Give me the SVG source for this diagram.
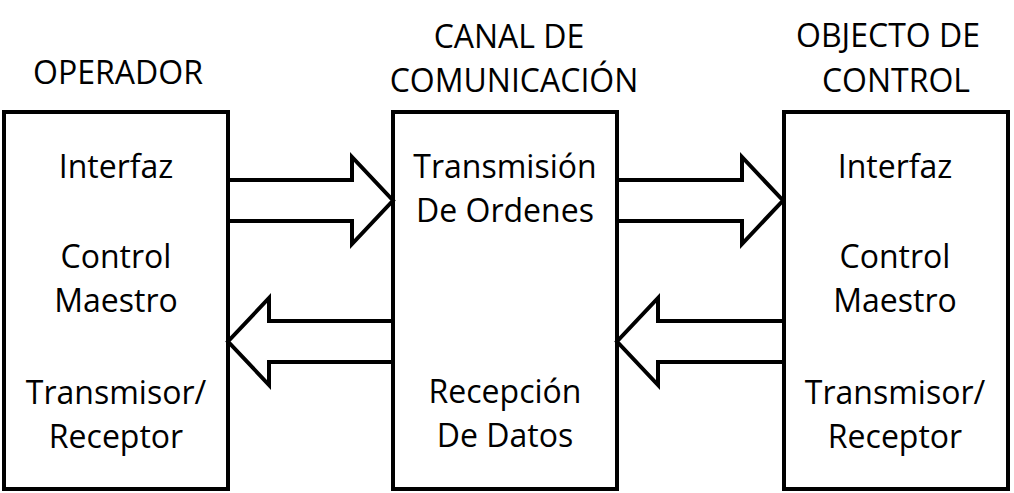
<svg xmlns="http://www.w3.org/2000/svg" width="1014" height="493" viewBox="0 0 1014 493">
<style>
.box{fill:#fff;stroke:#000;stroke-width:4}
.arr{fill:#fff;stroke:#000;stroke-width:4;stroke-linejoin:miter}
text{font-family:"Open Sans","Liberation Sans",sans-serif;font-size:32px;fill:#000;text-anchor:middle}
</style>
<rect width="1014" height="493" fill="#fff"/>
<g id="operador">
<rect class="box" x="4" y="112" width="224" height="377"/>
<text x="118" y="84">OPERADOR</text>
<text x="116" y="178">Interfaz</text>
<text x="116" y="268">Control</text>
<text x="116" y="312">Maestro</text>
<text x="116" y="404">Transmisor/</text>
<text x="116" y="448">Receptor</text>
</g>
<g id="canal">
<rect class="box" x="393" y="112" width="224" height="377"/>
<text x="509" y="48">CANAL DE</text>
<text x="514" y="92">COMUNICACIÓN</text>
<text x="505" y="178">Transmisión</text>
<text x="505" y="222">De Ordenes</text>
<text x="505" y="403">Recepción</text>
<text x="505" y="447">De Datos</text>
</g>
<g id="objeto">
<rect class="box" x="784" y="112" width="224" height="377"/>
<text x="888" y="47">OBJECTO DE</text>
<text x="896" y="92">CONTROL</text>
<text x="895" y="178">Interfaz</text>
<text x="895" y="268">Control</text>
<text x="895" y="312">Maestro</text>
<text x="895" y="404">Transmisor/</text>
<text x="895" y="448">Receptor</text>
</g>
<g id="connectors">
<polygon class="arr" points="228,180 352,180 352,157 393,200.5 352,244 352,221 228,221"/>
<polygon class="arr" points="393,321 269,321 269,298 228,341.5 269,385 269,362 393,362"/>
<polygon class="arr" points="617,180 742,180 742,157 783,200.5 742,244 742,221 617,221"/>
<polygon class="arr" points="784,321 658,321 658,298 617,341.5 658,385 658,362 784,362"/>
</g>
</svg>
